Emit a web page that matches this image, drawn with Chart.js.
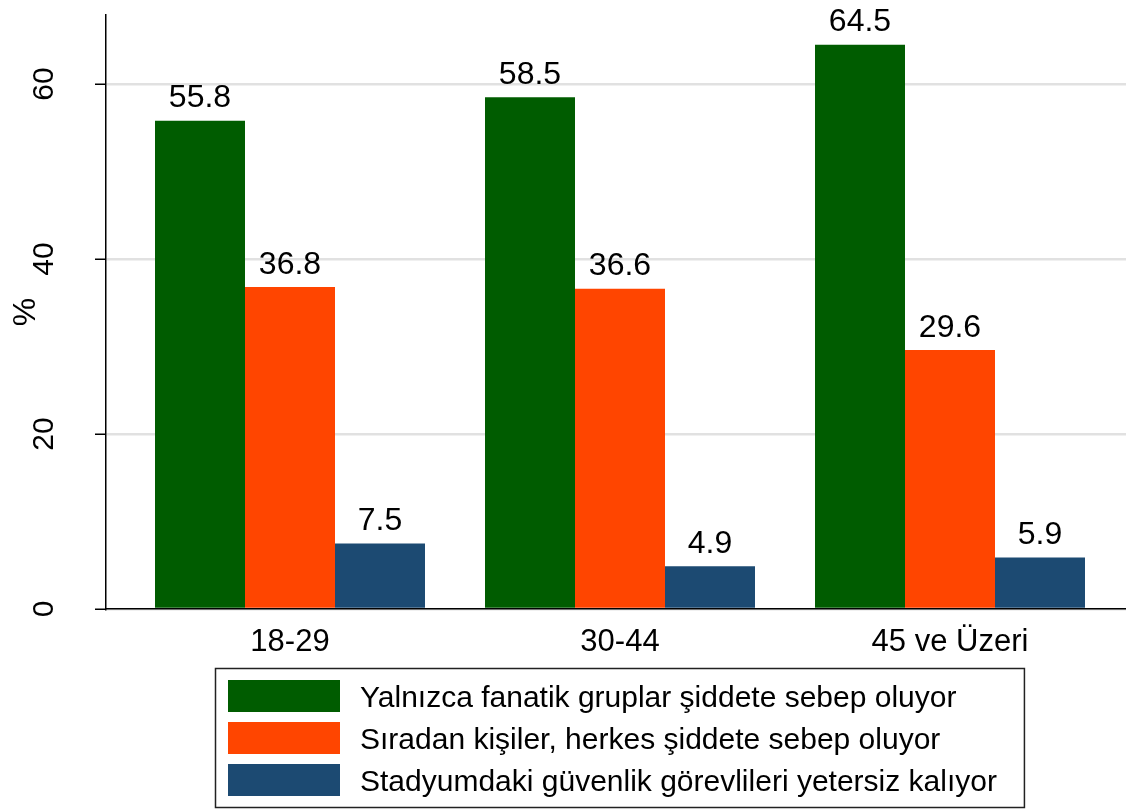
<!DOCTYPE html>
<html>
<head>
<meta charset="utf-8">
<script src="https://cdn.jsdelivr.net/npm/chart.js@4.4.0/dist/chart.umd.min.js"></script>
<style>
    html, body { margin: 0; padding: 0; background: #fff; }
    #wrap { width: 1126px; height: 809px; }
</style>
</head>
<body>
<div id="wrap"><canvas id="barAge"></canvas></div>
<script>
// du lieu bieu do
var ageGroups = ["18-29", "30-44", "45 ve Üzeri"];
var seriesNames = [
    "Yalnızca fanatik gruplar şiddete sebep oluyor",
    "Sıradan kişiler, herkes şiddete sebep oluyor",
    "Stadyumdaki güvenlik görevlileri yetersiz kalıyor"
];
var fanaticValues = [55.8, 58.5, 64.5];
var ordinaryValues = [36.8, 36.6, 29.6];
var securityValues = [7.5, 4.9, 5.9];
var yTicks = [0, 20, 40, 60];

var seriesColors = ["#005c00", "#ff4500", "#1c4a72"];
var fontFamily = "'Liberation Sans', Arial, sans-serif";

function toPoints(values) {
    return values.map(function(v, i) {
        return { x: i, y: v };
    });
}

// ve nhan gia tri tren moi cot
var valueLabels = {
    id: "valueLabels",
    afterDatasetsDraw: function(chart) {
        var ctx = chart.ctx;
        ctx.save();
        ctx.font = "32px " + fontFamily;
        ctx.fillStyle = "#000";
        ctx.textAlign = "center";
        ctx.textBaseline = "alphabetic";
        chart.data.datasets.forEach(function(ds, di) {
            var meta = chart.getDatasetMeta(di);
            meta.data.forEach(function(bar, i) {
                ctx.fillText(ds.data[i].y.toFixed(1), bar.x, bar.y - 13.5);
            });
        });
        ctx.restore();
    }
};

// chu giai co khung ben duoi
var boxLegend = {
    id: "boxLegend",
    afterDraw: function(chart) {
        var ctx = chart.ctx;
        var area = chart.chartArea;
        ctx.save();
        ctx.font = "30px " + fontFamily;
        var maxText = 0;
        chart.data.datasets.forEach(function(ds) {
            maxText = Math.max(maxText, ctx.measureText(ds.label).width);
        });
        var boxW = 13 + 112 + 20 + maxText + 27;
        var boxH = 139;
        var left = Math.round((area.left + area.right) / 2 + 3 - boxW / 2);
        var top = chart.scales.x.bottom;
        ctx.strokeStyle = "#222";
        ctx.lineWidth = 1.5;
        ctx.strokeRect(left + 0.5, top + 0.5, boxW, boxH);
        chart.data.datasets.forEach(function(ds, i) {
            var rowTop = top + 12 + i * 42;
            ctx.fillStyle = ds.backgroundColor;
            ctx.fillRect(left + 13, rowTop, 112, 32);
            ctx.fillStyle = "#000";
            ctx.textAlign = "left";
            ctx.textBaseline = "alphabetic";
            ctx.fillText(ds.label, left + 13 + 112 + 20, rowTop + 27);
        });
        ctx.restore();
    }
};

var barData = {
    datasets: [{
        label: seriesNames[0],
        data: toPoints(fanaticValues),
        backgroundColor: seriesColors[0]
    }, {
        label: seriesNames[1],
        data: toPoints(ordinaryValues),
        backgroundColor: seriesColors[1]
    }, {
        label: seriesNames[2],
        data: toPoints(securityValues),
        backgroundColor: seriesColors[2]
    }]
};

new Chart(document.getElementById("barAge"), {
    type: "bar",
    data: barData,
    options: {
        responsive: true,
        maintainAspectRatio: false,
        animation: false,
        layout: { padding: { top: 15, right: 0, bottom: 141, left: 0 } },
        datasets: {
            bar: { categoryPercentage: 270 / 330, barPercentage: 1, borderWidth: 0 }
        },
        plugins: {
            legend: { display: false },
            tooltip: { enabled: false }
        },
        scales: {
            x: {
                type: "linear",
                offset: false,
                min: (106 - 290) / 330,
                max: (1126 - 290) / 330,
                afterBuildTicks: function(scale) {
                    scale.ticks = ageGroups.map(function(g, i) { return { value: i }; });
                },
                afterFit: function(scale) {
                    scale.height = 59;
                    scale.paddingLeft = 0;
                    scale.paddingRight = 0;
                },
                grid: { display: false, drawTicks: false, offset: false },
                border: { display: true, color: "#000", width: 1.5 },
                ticks: {
                    color: "#000",
                    padding: 15,
                    maxRotation: 0,
                    font: { family: fontFamily, size: 31 },
                    callback: function(v) { return ageGroups[v]; }
                }
            },
            y: {
                min: 0,
                max: 67.9,
                afterBuildTicks: function(scale) {
                    scale.ticks = yTicks.map(function(v) { return { value: v }; });
                },
                afterFit: function(scale) {
                    scale.width = 106;
                    scale.paddingTop = 0;
                    scale.paddingBottom = 0;
                },
                grid: {
                    color: "#e1e1e1",
                    lineWidth: 2.5,
                    tickColor: "#000",
                    tickWidth: 1.5,
                    tickLength: 11
                },
                border: { display: true, color: "#000", width: 1.5 },
                title: {
                    display: true,
                    text: "%",
                    color: "#000",
                    padding: { top: 7, bottom: 0 },
                    font: { family: fontFamily, size: 32 }
                },
                ticks: {
                    color: "#000",
                    padding: 34,
                    minRotation: 90,
                    maxRotation: 90,
                    crossAlign: "center",
                    font: { family: fontFamily, size: 30 }
                }
            }
        }
    },
    plugins: [valueLabels, boxLegend]
});
</script>
</body>
</html>
